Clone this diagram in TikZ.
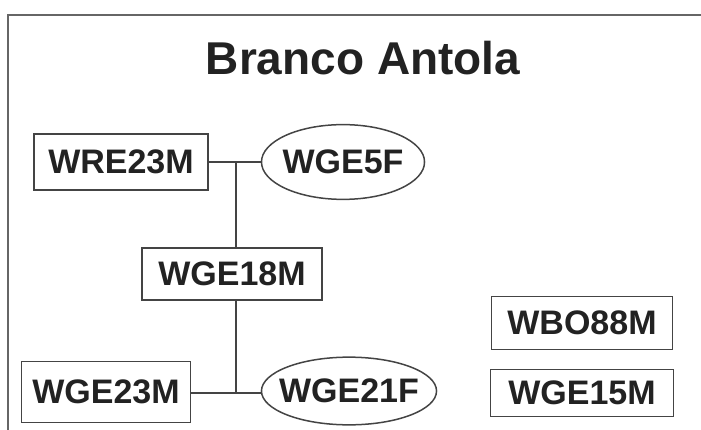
\documentclass[tikz,border=0pt]{standalone}
\usepackage{fontspec}
\setmainfont{Liberation Sans}
\usetikzlibrary{shapes.geometric}
\definecolor{boxc}{HTML}{444444}
\definecolor{framec}{HTML}{666666}
\definecolor{txt}{HTML}{222222}
\begin{document}
\begin{tikzpicture}[x=1pt,y=-1pt,
  lbl/.style={inner sep=0pt, font=\fontsize{34}{40}\selectfont\bfseries, text=txt},
  box/.style={lbl, draw=boxc, line width=1.8pt, rectangle},
  oval/.style={lbl, draw=boxc, line width=1.5pt, ellipse},
  link/.style={draw=boxc, line width=1.6pt},
  frame/.style={draw=framec, line width=2.5pt}]
\useasboundingbox (0,0) rectangle (701,430);
\begin{scope}
  \clip (0,0) rectangle (701,430);
  \draw[frame] (8,15) rectangle (702,470);
\end{scope}
\node[anchor=base, inner sep=0pt, font=\fontsize{46}{52}\selectfont\bfseries, text=txt] (title) at (363,75) {Branco Antola};

\node[box, minimum width=174pt, minimum height=56pt] (wre) at (121,162) {WRE23M};
\node[oval, inner xsep=-2.8pt, inner ysep=14.4pt] (ge5) at (343,162) {WGE5F};
\node[box, minimum width=180pt, minimum height=52pt] (ge18) at (232,274) {WGE18M};
\node[box, minimum width=169pt, minimum height=61pt] (ge23) at (106,392) {WGE23M};
\node[oval, inner xsep=-8pt, inner ysep=11.9pt] (ge21) at (349,391) {WGE21F};
\node[box, minimum width=181pt, minimum height=53pt] (bo88) at (582,323) {WBO88M};
\node[box, minimum width=183pt, minimum height=47pt] (ge15) at (582,393) {WGE15M};

\coordinate (j1) at (236,162);
\coordinate (j2) at (236,393);

\draw[link] (wre) -- (ge5);
\draw[link] (j1) -- (j1 |- ge18.north);
\draw[link] (j1 |- ge18.south) -- (j2);
\draw[link] (ge23.east |- j2) -- (j2 -| ge21.west);
\end{tikzpicture}
\end{document}
